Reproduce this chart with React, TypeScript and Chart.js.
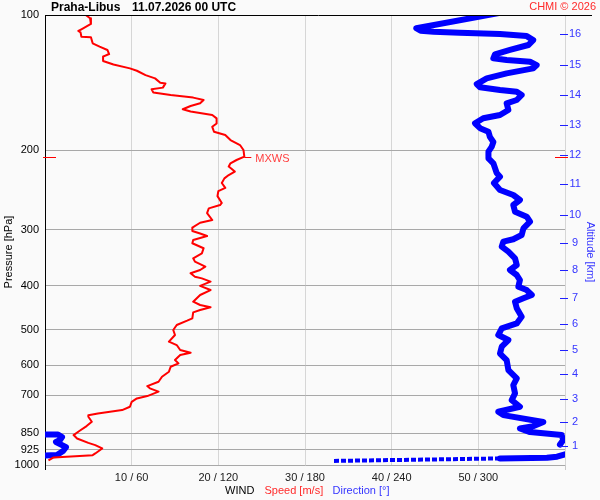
import React, { useEffect, useRef } from "react";
import { Chart, registerables } from "chart.js";

Chart.register(...registerables);

const stationTitle = "Praha-Libus";
const dateTitle = "11.07.2026 00 UTC";
const copyrightText = "CHMI © 2026";

const pressureTicks = [100, 200, 300, 400, 500, 600, 700, 850, 925, 1000];
const altitudeKm = [1, 2, 3, 4, 5, 6, 7, 8, 9, 10, 11, 12, 13, 14, 15, 16];
const altitudePressure = [906.5, 803, 712.5, 627, 555.3, 485.4, 424.9, 369.3, 320.6, 277.6, 237.7, 204.7, 175.6, 150.6, 129.2, 110.2];

const speedPressure = [
  100, 101.7, 104.7, 107.6, 108.5, 109.3, 111.8, 112.1, 115.6, 117.6,
  119.6, 122.1, 123.7, 126.5, 128.8, 131.4, 133.0, 136.0, 138.3, 141.5,
  141.9, 145.0, 146.3, 148.7, 150.6, 152.6, 154.5, 157.1, 159.3, 162.0,
  163.9, 166.8, 169.7, 174.2, 177.2, 181.7, 184.8, 189.6, 194.5, 199.5,
  206.4, 210.0, 213.6, 217.2, 222.8, 226.8, 230.7, 236.2, 242.2, 246.3,
  252.6, 261.6, 264.4, 269.0, 275.5, 285.5, 289.5, 296.7, 302.0, 305.9,
  309.9, 316.2, 321.5, 329.9, 338.7, 347.3, 353.3, 362.5, 368.7, 375.0,
  381.6, 384.8, 391.3, 400.0, 408.5, 419.0, 433.6, 441.0, 446.0, 452.5,
  458.0, 472.3, 477.9, 488.6, 501.3, 514.3, 532.0, 541.3, 555.3, 563.0,
  569.7, 584.5, 594.5, 604.9, 620.4, 636.5, 653.0, 667.7, 675.6, 687.2,
  702.8, 711.4, 723.7, 742.2, 755.0, 768.0, 775.0, 781.4, 801.5, 819.5,
  839.4, 858.1, 873.0, 893.0, 903.2, 918.9, 942.6, 951.0, 962.0, 977.0,
];
const speedMs = [
  4.7, 5.2, 5.3, 4.2, 3.85, 4.1, 4.2, 5.3, 5.5, 6.3,
  7.2, 7.4, 6.7, 6.7, 7.9, 9.8, 10.6, 11.6, 12.7, 13.3,
  13.9, 13.6, 12.3, 12.5, 14.5, 17.1, 18.3, 17.9, 16.8, 15.9,
  16.8, 19.3, 19.8, 19.8, 19.3, 19.5, 20.8, 21.4, 22.5, 22.9,
  23.0, 22.1, 21.4, 21.2, 21.9, 21.2, 20.7, 20.4, 20.8, 20.0,
  19.9, 20.4, 20.2, 18.9, 18.7, 19.3, 17.9, 17.0, 17.0, 17.9,
  18.7, 17.1, 17.0, 18.3, 18.1, 17.1, 17.3, 18.5, 17.9, 16.8,
  17.3, 18.1, 19.1, 17.9, 19.1, 17.9, 17.1, 17.9, 19.1, 17.9,
  17.1, 17.0, 16.4, 15.2, 14.8, 15.0, 14.3, 15.2, 15.6, 16.8,
  15.6, 15.0, 15.4, 14.5, 14.3, 13.5, 13.1, 11.8, 12.1, 13.1,
  11.8, 10.6, 10.0, 9.8, 8.9, 6.1, 5.0, 5.0, 5.4, 4.8,
  4.0, 3.3, 3.7, 5.0, 5.8, 6.6, 5.8, 5.5, 1.0, 0.4,
];

// null entries separate line pieces (wrap-around of direction at 0/360)
const dirPressure: (number | null)[] = [
  98.8, 107.0, 108.4, 108.9, 109.5, 110.2, 111.4, 113.7, 116.6, 119.6,
  122.3, 124.8, 125.9, 127.0, 129.2, 131.4, 134.8, 138.3, 142.4, 144.8,
  146.8, 148.1, 150.6, 154.5, 157.1, 162.6, 166.8, 169.6, 174.0, 178.5,
  181.7, 186.6, 191.5, 196.4, 201.2, 208.2, 213.6, 224.5, 228.7, 236.2,
  244.8, 251.2, 257.7, 264.4, 273.6, 280.7, 288.0, 298.0, 308.3, 315.0,
  318.8, 327.1, 335.6, 347.3, 359.4, 368.7, 378.3, 388.1, 401.5, 408.5,
  419.0, 426.2, 433.6, 448.6, 468.3, 484.6, 497.0, 514.3, 527.6, 546.0,
  565.3, 584.5, 615.2, 642.0, 664.3, 693.3, 717.3, 742.2, 761.5, 774.6,
  802.5, 819.6, 829.6, 844.9, 858.1, 880.4, 900.9,
  null,
  947, 958.6, 964.1, 966.9, 979.5,
  null,
  856, 856, 867, 880, 889, 903, 913, 931, 950, 953,
];
const dirDeg: (number | null)[] = [
  316, 257, 260, 269, 287, 315, 333.5, 338, 334.6, 321.9,
  311.5, 310.4, 319.6, 335.8, 340.4, 338, 319.6, 305.8, 298.9, 301.2,
  315, 326.6, 330, 326.6, 319.6, 320.8, 315, 303.4, 297.7, 301.2,
  307, 308, 310.4, 309.2, 307, 307, 310.4, 312.7, 315, 310.8,
  315, 324.2, 328.8, 324.2, 325.4, 333.5, 335.8, 331.2, 330, 324.2,
  317.3, 316.2, 320.8, 325.4, 326.6, 321.9, 326.6, 328.8, 327.7, 333.5,
  337, 331.2, 325.4, 326.6, 330, 326.6, 316.2, 313.8, 320.8, 316.2,
  315, 319.6, 320.8, 326.6, 324.2, 325.4, 323.1, 328.8, 313.8, 317.3,
  345, 338, 328.8, 335.8, 357.7, 358.8, 356.5,
  null,
  360, 354.5, 347.5, 315, 199.4,
  null,
  0, 9, 11.8, 10.4, 7.6, 11.8, 14.5, 12.5, 8.3, 0,
];

const mxwsPressure = 206.4;
const mxwsSpeed = 23.0;

const FONT = 'Arial, "Liberation Sans", sans-serif';
const BLUE_TXT = "#3535ff";
const RED_TXT = "#ff2a2a";

// a long, nearly flat sideways jump is drawn thinner and dotted, as in the source
const isFlatJump = (c: any) => {
  const dx = Math.abs(c.p1.x - c.p0.x);
  const dy = Math.abs(c.p1.y - c.p0.y);
  return dx > 60 && dy / dx < 0.06;
};

const decorPlugin = {
  id: "decor",
  beforeDraw(chart: any) {
    const c = chart.ctx;
    c.save();
    c.fillStyle = "#fafafa";
    c.fillRect(0, 0, chart.width, chart.height);
    c.restore();
  },
  afterDraw(chart: any) {
    const { ctx, chartArea: a, scales } = chart;
    ctx.save();
    ctx.strokeStyle = "#000";
    ctx.lineWidth = 1;
    ctx.beginPath();
    ctx.moveTo(a.left, Math.round(a.top) + 0.5);
    ctx.lineTo(592, Math.round(a.top) + 0.5);
    ctx.stroke();
    ctx.beginPath();
    ctx.moveTo(Math.round(a.left) + 0.5, a.bottom);
    ctx.lineTo(Math.round(a.left) + 0.5, a.bottom + 5);
    ctx.stroke();
    ctx.strokeStyle = "#c8c8c8";
    ctx.beginPath();
    ctx.moveTo(Math.round(a.right) + 0.5, a.bottom);
    ctx.lineTo(Math.round(a.right) + 0.5, a.bottom + 5);
    ctx.stroke();

    const y2 = scales.y2;
    ctx.strokeStyle = "#2020ff";
    ctx.beginPath();
    altitudePressure.forEach((p) => {
      const y = Math.round(y2.getPixelForValue(p)) + 0.5;
      ctx.moveTo(a.right - 5, y);
      ctx.lineTo(a.right + 3, y);
    });
    ctx.stroke();

    const mx = scales.x.getPixelForValue(mxwsSpeed);
    const my = Math.round(scales.y.getPixelForValue(mxwsPressure)) + 0.5;
    ctx.strokeStyle = "#ff0000";
    ctx.beginPath();
    ctx.moveTo(mx, my);
    ctx.lineTo(mx + 7, my);
    ctx.moveTo(a.left - 2, my);
    ctx.lineTo(a.left + 11, my);
    ctx.moveTo(a.right - 10, my);
    ctx.lineTo(a.right + 3, my);
    ctx.stroke();
    ctx.font = `11px ${FONT}`;
    ctx.fillStyle = "#ff4040";
    ctx.textAlign = "left";
    ctx.textBaseline = "middle";
    ctx.fillText("MXWS", mx + 11, my + 1);

    ctx.fillStyle = "#000";
    ctx.font = `bold 12px ${FONT}`;
    ctx.fillText(stationTitle, 51, 8);
    ctx.fillText(dateTitle, 132, 8);
    ctx.font = `11px ${FONT}`;
    ctx.fillStyle = RED_TXT;
    ctx.textAlign = "right";
    ctx.fillText(copyrightText, 596, 7);

    ctx.textAlign = "left";
    ctx.fillStyle = "#000";
    ctx.fillText("WIND", 225, 491);
    ctx.fillStyle = RED_TXT;
    ctx.fillText("Speed [m/s]", 264.5, 491);
    ctx.fillStyle = BLUE_TXT;
    ctx.fillText("Direction [°]", 332.5, 491);

    ctx.save();
    ctx.translate(8.5, 252);
    ctx.rotate(-Math.PI / 2);
    ctx.textAlign = "center";
    ctx.fillStyle = "#000";
    ctx.fillText("Pressure [hPa]", 0, 0);
    ctx.restore();

    ctx.save();
    ctx.translate(590, 252);
    ctx.rotate(Math.PI / 2);
    ctx.textAlign = "center";
    ctx.fillStyle = BLUE_TXT;
    ctx.fillText("Altitude [km]", 0, 0);
    ctx.restore();

    ctx.restore();
  },
};

export default function App() {
  const ref = useRef<HTMLCanvasElement | null>(null);

  useEffect(() => {
    document.body.style.margin = "0";
    const canvas = ref.current;
    if (!canvas) return;

    const speedData = speedPressure.map((p, i) => ({ x: speedMs[i], y: p }));
    const dirData = dirPressure.map((p, i) => ({ x: dirDeg[i], y: p }));

    const chart = new Chart(canvas, {
      type: "line",
      data: {
        datasets: [
          {
            label: "Speed",
            data: speedData as any,
            xAxisID: "x",
            yAxisID: "y",
            borderColor: "#ff0000",
            borderWidth: 2,
            pointRadius: 0,
            tension: 0,
            fill: false,
            borderJoinStyle: "round",
          },
          {
            label: "Direction",
            data: dirData as any,
            xAxisID: "x2",
            yAxisID: "y",
            borderColor: "#0000ff",
            borderWidth: 6,
            pointRadius: 0,
            tension: 0,
            fill: false,
            spanGaps: false,
            borderJoinStyle: "round",
            borderCapStyle: "round",
            segment: {
              borderWidth: (c: any) => (isFlatJump(c) ? 4 : undefined),
              borderDash: (c: any) => (isFlatJump(c) ? [5, 2] : undefined),
              borderCapStyle: (c: any) => (isFlatJump(c) ? "butt" : undefined),
            },
          } as any,
        ],
      },
      options: {
        responsive: false,
        animation: false,
        devicePixelRatio: 1,
        layout: { padding: { top: 15, left: 0, right: 0, bottom: 0 } },
        plugins: {
          legend: { display: false },
          tooltip: { enabled: false },
          title: { display: false },
        },
        scales: {
          x: {
            type: "linear",
            position: "bottom",
            min: 0,
            max: 60,
            afterFit: (s: any) => {
              s.height = 35;
            },
            ticks: {
              stepSize: 10,
              autoSkip: false,
              maxRotation: 0,
              padding: 6,
              color: "#202020",
              font: { family: FONT, size: 11 },
              callback: (v: any) => (v === 0 || v === 60 ? "" : `${v} / ${v * 6}`),
            },
            grid: { color: "#d6d6d6", drawTicks: false, lineWidth: 1 },
            border: { display: false },
          },
          x2: {
            type: "linear",
            display: false,
            min: 0,
            max: 360,
          },
          y: {
            type: "logarithmic",
            position: "left",
            reverse: true,
            min: 100,
            max: 1000,
            afterFit: (s: any) => {
              s.width = 45;
            },
            afterBuildTicks: (s: any) => {
              s.ticks = pressureTicks.map((v) => ({ value: v }));
            },
            ticks: {
              autoSkip: false,
              padding: 6,
              color: "#000",
              font: { family: FONT, size: 11 },
              callback: (v: any) => String(v),
            },
            grid: {
              drawTicks: false,
              color: (c: any) => (c.tick && c.tick.value === 100 ? "rgba(0,0,0,0)" : "#a8a8a8"),
            },
            border: { display: true, color: "#000", width: 1 },
          },
          y2: {
            type: "logarithmic",
            position: "right",
            reverse: true,
            min: 100,
            max: 1000,
            afterFit: (s: any) => {
              s.width = 35;
            },
            afterBuildTicks: (s: any) => {
              s.ticks = altitudePressure.map((v) => ({ value: v }));
            },
            ticks: {
              autoSkip: false,
              padding: 4,
              crossAlign: "center",
              color: BLUE_TXT,
              font: { family: FONT, size: 11 },
              callback: (_v: any, i: number) => String(altitudeKm[i]),
            },
            grid: { drawOnChartArea: false, drawTicks: false },
            border: { display: false },
          },
        },
      } as any,
      plugins: [decorPlugin],
    });

    return () => chart.destroy();
  }, []);

  return (
    <div style={{ width: 600, height: 500 }}>
      <canvas ref={ref} width={600} height={500} style={{ width: 600, height: 500, display: "block" }} />
    </div>
  );
}
